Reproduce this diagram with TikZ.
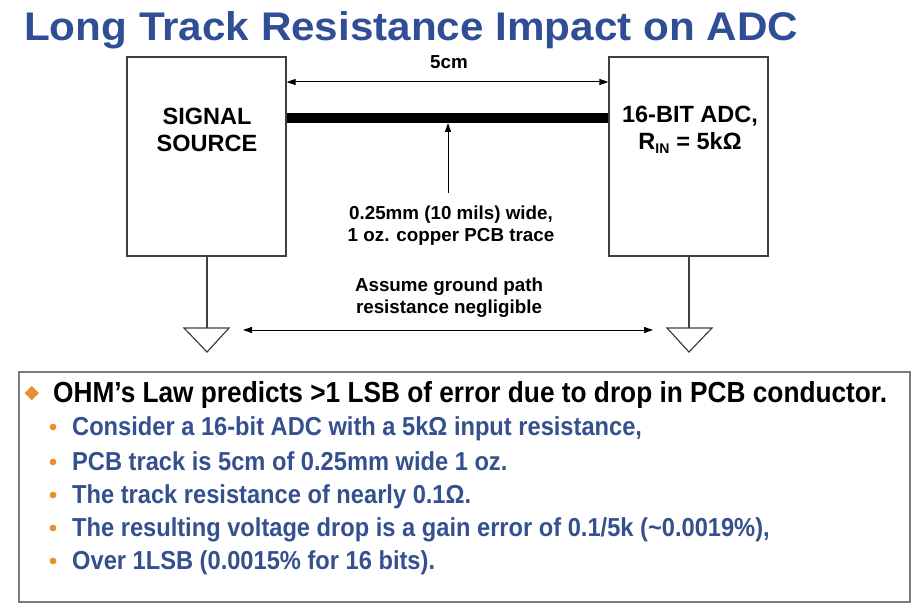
\documentclass[tikz,border=0pt]{standalone}
\usepackage{fontspec}
\setmainfont{Liberation Sans}
\newfontfamily\symfont{DejaVu Sans}
\usetikzlibrary{arrows.meta}
\definecolor{titleblue}{HTML}{2F4E96}
\definecolor{subblue}{HTML}{34508F}
\definecolor{bulletorange}{HTML}{E8912C}
\definecolor{boxgray}{HTML}{7A7A7A}
\tikzset{
  blockbox/.style={draw=black!75, line width=1.2pt, minimum width=159pt, minimum height=199pt, inner sep=0pt},
  blocktext/.style={font=\fontsize{23.5}{27}\selectfont\bfseries, align=center, inner sep=0pt},
  smalltext/.style={font=\fontsize{18.8}{22}\selectfont\bfseries, align=center, inner sep=0pt},
  dimarrow/.style={line width=1pt, {Triangle[length=9pt,width=6pt]}-{Triangle[length=9pt,width=6pt]}},
  ptrarrow/.style={line width=1pt, -{Triangle[length=9pt,width=6pt]}},
  trace/.style={line width=10pt},
  gndline/.style={draw=black!75, line width=1.2pt},
  mainbullet/.style={anchor=base west, inner sep=0pt, font=\fontsize{29}{32}\selectfont\bfseries},
  subbullet/.style={anchor=base west, inner sep=0pt, font=\fontsize{26}{30}\selectfont\bfseries, text=subblue},
}
\begin{document}
\begin{tikzpicture}[x=1pt,y=-1pt]
\useasboundingbox (0,0) rectangle (923,612);
% title
\node[anchor=base west, inner sep=0pt, text=titleblue, font=\fontsize{40}{44}\selectfont\bfseries] (title) at (24,41) {\scalebox{1.055}[1]{Long Track Resistance Impact on ADC}};
% blocks
\node[blockbox] (src) at (206.5,156.5) {};
\node[blockbox] (adc) at (688.5,156.5) {};
\node[blocktext] (srct) at (207,130) {SIGNAL\\SOURCE};
\node[blocktext] (adct) at (690,130) {16-BIT ADC,\\R\textsubscript{\fontsize{14}{14}\selectfont IN} = 5kΩ};
% dimension
\coordinate (dimL) at (src.east |- 0,82);
\coordinate (dimR) at (adc.west |- 0,82);
\draw[dimarrow] (dimL) -- (dimR);
\node[smalltext] (dimt) at (449,62) {5cm};
% trace
\draw[trace] (src.east |- 0,118) -- (adc.west |- 0,118);
\coordinate (trtip) at (448,123);
\node[smalltext, anchor=north] (trt) at (451,206) {0.25mm (10 mils) wide,\\1 oz. copper PCB trace};
\coordinate (trtail) at (448,193);
\draw[ptrarrow] (trtail) -- (trtip);
% grounds
\coordinate (gL) at (207,328);
\coordinate (gR) at (689,328);
\draw[gndline] (src.south -| gL) -- (gL);
\draw[gndline] (adc.south -| gR) -- (gR);
\draw[gndline, line join=miter] (184,328) -- (229,328) -- (207,352) -- cycle;
\draw[gndline, line join=miter] (667,328) -- (712,328) -- (689,352) -- cycle;
\node[smalltext, anchor=north] (gndt) at (449,278) {Assume ground path\\resistance negligible};
\coordinate (gaL) at (243,330);
\coordinate (gaR) at (653,330);
\draw[dimarrow] (gaL) -- (gaR);
% bottom box
\node[draw=boxgray, line width=1.8pt, anchor=north west, minimum width=891pt, minimum height=230pt, inner sep=0pt] (panel) at (18,371) {};
\node[text=bulletorange, inner sep=0pt, font=\symfont\fontsize{19}{19}\selectfont] (d0) at (32,394) {◆};
\node[mainbullet] (l0) at (53,402) {\scalebox{0.905}[1]{OHM’s Law predicts >1 LSB of error due to drop in PCB conductor.}};
\foreach \yy/\txt [count=\i] in {435/{Consider a 16-bit ADC with a 5kΩ input resistance,},
  470/{PCB track is 5cm of 0.25mm wide 1 oz.},
  503/{The track resistance of nearly 0.1Ω.},
  536/{The resulting voltage drop is a gain error of 0.1/5k (\textasciitilde0.0019\%),},
  569/{Over 1LSB (0.0015\% for 16 bits).}}{
  \fill[bulletorange] (53,\yy-8) circle (3.4pt);
  \node[subbullet] (s\i) at (72,\yy) {\scalebox{0.91}[1]{\txt}};
}
\end{tikzpicture}
\end{document}
